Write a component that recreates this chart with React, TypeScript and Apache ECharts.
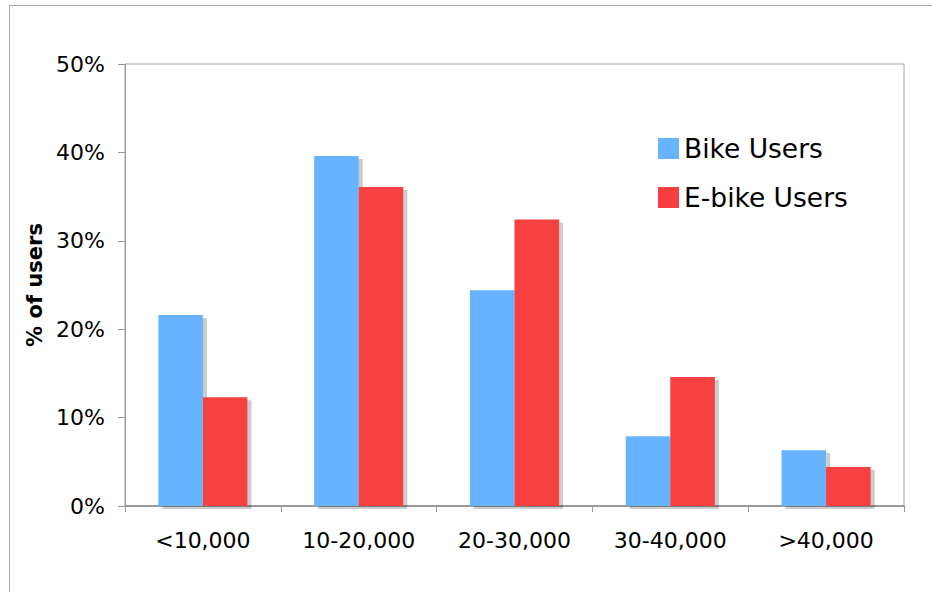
import React, { useEffect, useRef } from "react";
import * as echarts from "echarts";

const categories = ["<10,000", "10-20,000", "20-30,000", "30-40,000", ">40,000"];
const bikeUsers = [21.6, 39.6, 24.4, 7.9, 6.3];
const eBikeUsers = [12.3, 36.1, 32.4, 14.6, 4.4];
const seriesNames = ["Bike Users", "E-bike Users"];
const yAxisTitle = "% of users";

const FONT = "DejaVu Sans";

export default function App() {
  const ref = useRef<HTMLDivElement>(null);
  useEffect(() => {
    if (!ref.current) return;
    const chart = echarts.init(ref.current, null, { renderer: "svg" });
    const shadow = {
      shadowColor: "rgba(0,0,0,0.2)",
      shadowOffsetX: 4,
      shadowOffsetY: 3,
      shadowBlur: 0,
    };
    chart.setOption({
      animation: false,
      backgroundColor: "#ffffff",
      graphic: [
        {
          type: "rect",
          shape: { x: 9.5, y: 5.5, width: 1200, height: 1200 },
          style: { fill: "none", stroke: "#a8a8a8", lineWidth: 1 },
          silent: true,
          z: -10,
        },
      ],
      grid: {
        left: 125,
        top: 64,
        right: 28,
        bottom: 86,
        show: true,
        borderColor: "#a8a8a8",
        borderWidth: 1,
        backgroundColor: "transparent",
      },
      legend: {
        orient: "vertical",
        left: 653,
        top: 130,
        itemWidth: 21,
        itemHeight: 21,
        itemGap: 22,
        icon: "rect",
        textStyle: { fontFamily: FONT, fontSize: 26.5, color: "#000" },
        data: seriesNames,
      },
      xAxis: {
        type: "category",
        data: categories,
        axisLine: { show: true, lineStyle: { color: "#999", width: 2 } },
        axisTick: { show: true, length: 6, lineStyle: { color: "#999" } },
        axisLabel: {
          fontFamily: FONT,
          fontSize: 22,
          color: "#000",
          margin: 23,
        },
        splitLine: { show: false },
      },
      yAxis: {
        type: "value",
        min: 0,
        max: 50,
        interval: 10,
        name: yAxisTitle,
        nameLocation: "middle",
        nameGap: 80,
        nameRotate: 90,
        nameTextStyle: {
          fontFamily: FONT,
          fontSize: 21,
          fontWeight: "bold",
          color: "#000",
        },
        axisLine: { show: true, lineStyle: { color: "#999", width: 1 } },
        axisTick: { show: true, length: 7, lineStyle: { color: "#999" } },
        axisLabel: {
          formatter: "{value}%",
          fontFamily: FONT,
          fontSize: 22,
          color: "#000",
          margin: 20,
        },
        splitLine: { show: false },
      },
      series: [
        {
          name: seriesNames[0],
          type: "bar",
          data: bikeUsers,
          barWidth: "28.6%",
          barGap: "0%",
          itemStyle: { color: "#66b3ff", ...shadow },
        },
        {
          name: seriesNames[1],
          type: "bar",
          data: eBikeUsers,
          barWidth: "28.6%",
          barGap: "0%",
          itemStyle: { color: "#f73f3f", ...shadow },
        },
      ],
    });
    return () => chart.dispose();
  }, []);
  return (
    <div
      ref={ref}
      style={{ position: "absolute", left: 0, top: 0, width: 932, height: 592 }}
    />
  );
}
